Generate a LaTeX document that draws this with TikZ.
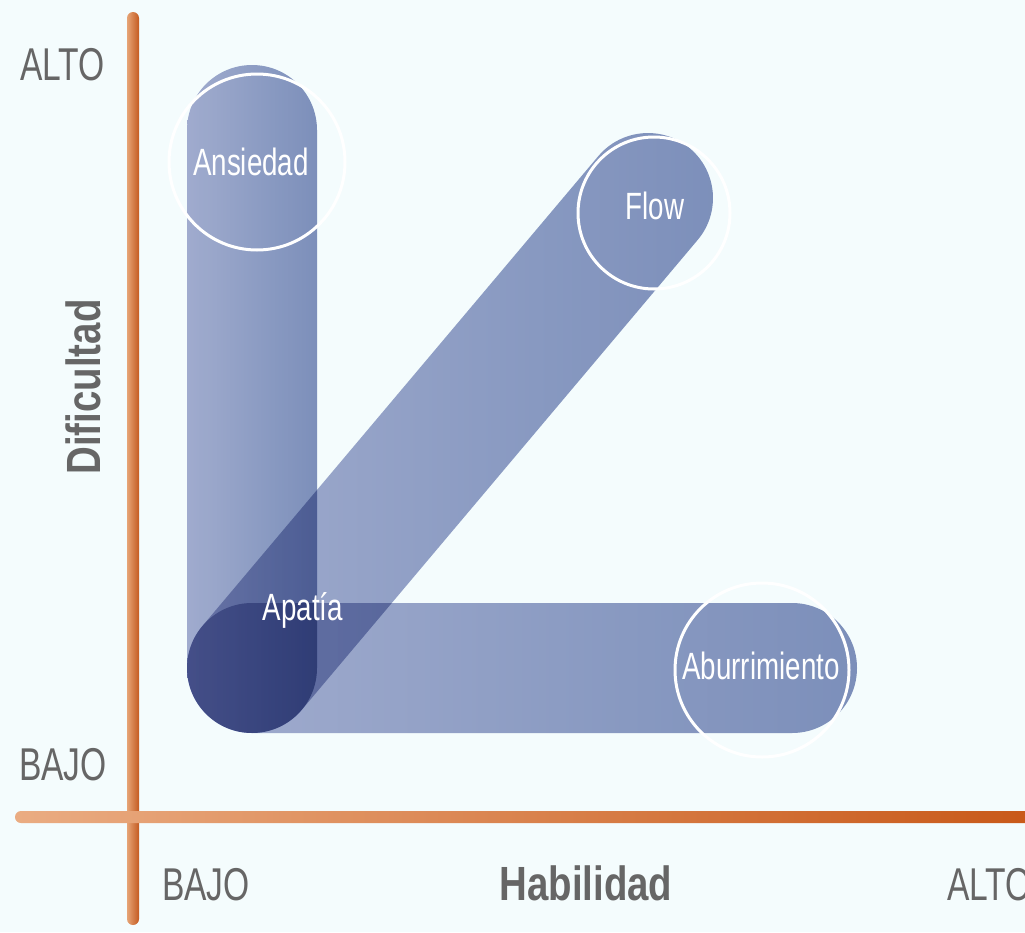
\documentclass[tikz,border=0pt]{standalone}
\usepackage{fontspec}
\setmainfont[FakeStretch=0.73]{Liberation Sans}
\newfontfamily\boldcond[FakeStretch=0.8]{Liberation Sans}
\definecolor{bg}{RGB}{244,252,253}
\definecolor{axl}{RGB}{230,164,118}
\definecolor{axd}{RGB}{196,90,32}
\definecolor{hxl}{RGB}{234,172,130}
\definecolor{hxd}{RGB}{200,88,24}
\definecolor{capl}{RGB}{168,174,208}
\definecolor{capd}{RGB}{130,145,188}
\definecolor{lbl}{RGB}{102,102,102}
\tikzset{
  capsule/.style={left color=capl, right color=capd},
  ring/.style={draw=white, line width=3pt},
  axislabel/.style={text=lbl, font=\fontsize{46}{50}\selectfont, inner sep=0pt, anchor=base west},
  axistitle/.style={text=lbl, font=\fontsize{48}{52}\selectfont\boldcond\bfseries, inner sep=0pt, anchor=base},
  statelabel/.style={text=white, font=\fontsize{38}{42}\selectfont, inner sep=0pt, anchor=base}
}
\begin{document}
\begin{tikzpicture}[x=1pt,y=-1pt]
\clip (0,0) rectangle (1025,932);
\fill[bg] (0,0) rectangle (1025,932);
% axes
\shade[left color=axl, right color=axd, rounded corners=6pt] (127,12) rectangle (139,925);
\shade[left color=hxl, right color=hxd, rounded corners=6pt] (15,811) rectangle (1045,823);
% capsules
\begin{scope}[blend mode=multiply]
\shade[capsule, rounded corners=65pt] (187,65) rectangle (317,733);
\shade[capsule, rounded corners=65pt] (187,603) rectangle (857,733);
\shade[capsule] (301.7,709.9) -- (697.7,239.9) arc[start angle=40.1, end angle=-139.9, radius=65]
  -- (202.3,626.1) arc[start angle=-139.9, end angle=-319.9, radius=65] -- cycle;
\end{scope}
% rings
\draw[ring] (257,162) circle[radius=88];
\draw[ring] (654,213) circle[radius=76];
\draw[ring] (762,670) circle[radius=87];
% state labels
\node[statelabel] (ans) at (251,175) {Ansiedad};
\node[statelabel] (flow) at (655,219) {Flow};
\node[statelabel] (abu) at (761,679) {Aburrimiento};
\node[statelabel] (apa) at (303,620) {Apatía};
% axis labels
\node[axislabel] (altoy) at (20,80) {ALTO};
\node[axislabel] (bajoy) at (19,780) {BAJO};
\node[axislabel] (bajox) at (162,900) {BAJO};
\node[axislabel] (altox) at (947,900) {ALTO};
\node[axistitle] (hab) at (586,900) {Habilidad};
\node[axistitle, rotate=90] (dif) at (100,387) {Dificultad};
\end{tikzpicture}
\end{document}
